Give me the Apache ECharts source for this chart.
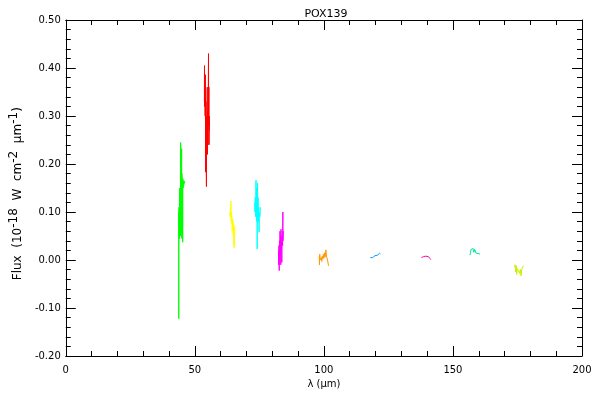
<!DOCTYPE html>
<html>
<head>
<meta charset="utf-8">
<script src="https://cdn.jsdelivr.net/npm/echarts@6/dist/echarts.min.js"></script>
<style>html,body{margin:0;padding:0;background:#fff}#c{width:600px;height:400px}</style>
</head>
<body>
<div id="c"></div>
<script>
// Spectral segments: [wavelength (µm), flux]
const segGreen = [[43.75,0.10],[43.78,-0.122],[43.8,0.05],[43.85,0.11],[43.9,0.06],[44.0,0.10],[44.1,0.045],[44.15,0.15],[44.2,0.05],[44.3,0.14],[44.4,0.06],[44.5,0.245],[44.55,0.05],[44.6,0.17],[44.7,0.08],[44.8,0.20],[44.9,0.232],[44.95,0.045],[45.0,0.18],[45.1,0.06],[45.2,0.16],[45.3,0.037],[45.35,0.17],[45.45,0.15],[45.6,0.165],[45.7,0.155],[45.85,0.165],[46.0,0.16],[46.1,0.163]];
const segRed = [[53.7,0.33],[53.75,0.405],[53.8,0.32],[53.9,0.34],[54.0,0.30],[54.1,0.386],[54.15,0.25],[54.2,0.183],[54.3,0.33],[54.4,0.22],[54.5,0.153],[54.55,0.30],[54.7,0.26],[54.8,0.36],[54.9,0.22],[55.0,0.31],[55.1,0.24],[55.3,0.43],[55.35,0.28],[55.45,0.36],[55.5,0.24],[55.6,0.30],[55.65,0.27]];
const segYellow = [[63.6,0.10],[63.7,0.09],[63.8,0.11],[63.9,0.09],[64.0,0.123],[64.05,0.09],[64.1,0.08],[64.2,0.10],[64.3,0.075],[64.4,0.09],[64.5,0.06],[64.6,0.085],[64.7,0.07],[64.8,0.08],[64.9,0.05],[65.0,0.075],[65.1,0.03],[65.2,0.07],[65.3,0.025],[65.4,0.06],[65.5,0.07]];
const segCyan = [[73.2,0.12],[73.3,0.10],[73.4,0.13],[73.5,0.11],[73.6,0.09],[73.7,0.166],[73.8,0.10],[73.9,0.15],[74.0,0.08],[74.1,0.12],[74.15,0.023],[74.2,0.10],[74.3,0.16],[74.4,0.09],[74.5,0.13],[74.6,0.08],[74.8,0.11],[74.9,0.058],[75.0,0.10],[75.2,0.09],[75.4,0.11]];
const segMagenta = [[82.4,0.02],[82.5,-0.01],[82.6,0.03],[82.7,-0.022],[82.8,0.04],[82.9,0.0],[83.0,0.06],[83.1,0.01],[83.2,0.05],[83.3,-0.01],[83.4,0.064],[83.5,0.02],[83.6,0.04],[83.7,-0.005],[83.8,0.05],[84.0,0.03],[84.1,0.10],[84.15,0.04],[84.3,0.06],[84.5,0.06]];
const segOrange = [[98.2,0.008],[98.3,-0.010],[98.4,0.012],[98.6,0.0],[98.8,0.003],[99.0,0.005],[99.2,-0.003],[99.4,0.008],[99.6,0.002],[99.8,0.012],[100.0,0.004],[100.3,0.015],[100.5,0.006],[100.8,0.021],[101.0,0.008],[101.2,0.012],[101.4,0.0],[101.6,0.003],[101.8,-0.012]];
const segBlue = [[118.0,0.005],[118.3,0.003],[118.6,0.007],[118.9,0.005],[119.2,0.008],[119.5,0.006],[119.8,0.009],[120.1,0.008],[120.4,0.011],[120.7,0.010],[121.0,0.013],[121.3,0.012],[121.6,0.014],[121.9,0.013],[122.1,0.014]];
const segPink = [[137.8,0.005],[138.0,0.002],[138.3,0.006],[138.6,0.007],[138.9,0.009],[139.2,0.007],[139.5,0.008],[139.8,0.006],[140.1,0.006],[140.4,0.007],[140.7,0.005],[141.0,0.006],[141.2,0.003],[141.4,0.001]];
const segTeal = [[156.6,0.010],[156.8,0.015],[157.0,0.022],[157.2,0.018],[157.4,0.025],[157.6,0.020],[157.8,0.024],[158.1,0.016],[158.4,0.022],[158.7,0.019],[159.0,0.014],[159.3,0.017],[159.7,0.012],[160.1,0.013],[160.5,0.012]];
const segLime = [[173.9,-0.015],[174.1,-0.010],[174.3,-0.025],[174.5,-0.012],[174.7,-0.030],[174.9,-0.018],[175.2,-0.022],[175.5,-0.015],[175.8,-0.028],[176.1,-0.020],[176.4,-0.033],[176.7,-0.018],[177.0,-0.022],[177.3,-0.012]];

const segments = [segGreen, segRed, segYellow, segCyan, segMagenta, segOrange, segBlue, segPink, segTeal, segLime];
const segColors = ['#00ff00','#ff0000','#ffff00','#00ffff','#ff00ff','#ff9900','#0099ff','#ff0099','#00e6a0','#ccee00'];

const titleText = 'POX139';
const xName = 'λ (µm)';

const chart = echarts.init(document.getElementById('c'), null, {renderer: 'canvas'});
const font = '"DejaVu Sans", sans-serif';
const tickCommon = {
  axisLine: {show: true, onZero: false, lineStyle: {color: '#000', width: 1}},
  axisTick: {show: true, inside: true, length: 10, lineStyle: {color: '#000'}},
  minorTick: {show: true, splitNumber: 5, length: 5, lineStyle: {color: '#000'}},
  splitLine: {show: false}
};
const option = {
  animation: false,
  backgroundColor: '#fff',
  title: {text: titleText, left: 321, textAlign: 'center', top: 4,
    textStyle: {fontFamily: font, fontSize: 11, fontWeight: 'normal', color: '#000'}},
  grid: {left: 61, right: 18, top: 20, bottom: 44},
  xAxis: [
    Object.assign({type: 'value', position: 'bottom', min: 0, max: 200, interval: 50,
      name: xName, nameLocation: 'middle', nameGap: 23,
      nameTextStyle: {fontFamily: font, fontSize: 10, color: '#000'},
      axisLabel: {fontFamily: font, fontSize: 10, color: '#000', margin: 9}}, tickCommon),
    Object.assign({type: 'value', position: 'top', min: 0, max: 200, interval: 50,
      axisLabel: {show: false}}, tickCommon)
  ],
  yAxis: [
    Object.assign({type: 'value', position: 'left', min: -0.2, max: 0.5, interval: 0.1,
      name: '{n|Flux  (10}{s|-18}{n|  W  cm}{s|-2}{n|  µm}{s|-1}{n|)   }',
      nameLocation: 'middle', nameGap: 38,
      nameTextStyle: {fontFamily: font, fontSize: 12, color: '#000',
        rich: {
          n: {fontFamily: font, fontSize: 12, color: '#000', lineHeight: 16, verticalAlign: 'bottom'},
          s: {fontFamily: font, fontSize: 12, color: '#000', lineHeight: 12, verticalAlign: 'top'}
        }},
      axisLabel: {fontFamily: font, fontSize: 10, color: '#000', margin: 5,
        formatter: v => v.toFixed(2)}}, tickCommon),
    Object.assign({type: 'value', position: 'right', min: -0.2, max: 0.5, interval: 0.1,
      axisLabel: {show: false}}, tickCommon)
  ],
  series: segments.map((seg, i) => ({
    type: 'line', data: seg, xAxisIndex: 0, yAxisIndex: 0,
    showSymbol: false, symbol: 'none',
    lineStyle: {color: segColors[i], width: 1},
    silent: true
  }))
};
chart.setOption(option);
</script>
</body>
</html>
